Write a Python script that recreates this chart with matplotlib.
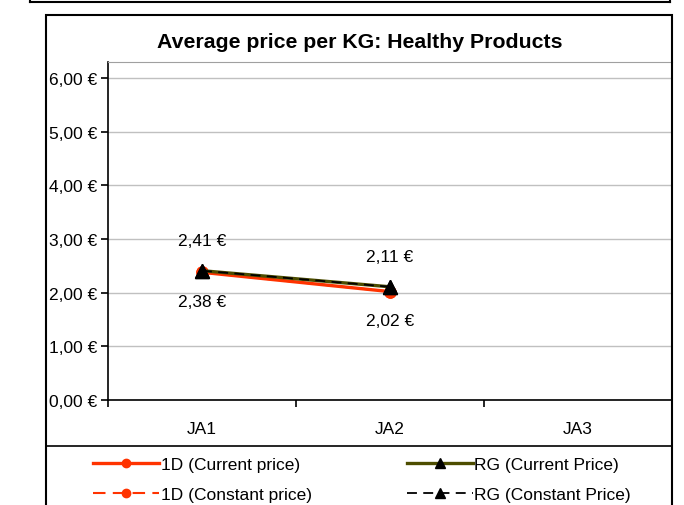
import numpy as np
import matplotlib.pyplot as plt
from matplotlib.lines import Line2D

# data
categories = ['JA1', 'JA2', 'JA3']
d1_current = [2.38, 2.02]
d1_constant = [2.38, 2.02]
rg_current = [2.41, 2.11]
rg_constant = [2.41, 2.11]
yticks = [0, 1, 2, 3, 4, 5, 6]

W, H = 684, 506
fig = plt.figure(figsize=(W / 100, H / 100), dpi=100)
plt.rcParams['font.family'] = ['Liberation Sans', 'DejaVu Sans']

def fx(px):
    return px / W

def fy(py):
    return 1 - py / H

# boxes around the chart
fig.add_artist(Line2D([fx(30), fx(670)], [fy(3), fy(3)], color='black', lw=1.5))
fig.add_artist(Line2D([fx(30), fx(30)], [fy(0), fy(3)], color='black', lw=1.5))
fig.add_artist(Line2D([fx(670), fx(670)], [fy(0), fy(3)], color='black', lw=1.5))
fig.add_artist(plt.Rectangle((fx(46), fy(520)), fx(672) - fx(46), fy(16) - fy(520),
                             fill=False, edgecolor='black', lw=1.5))
fig.add_artist(Line2D([fx(46), fx(672)], [fy(447), fy(447)], color='black', lw=1.2))

ax = fig.add_axes([fx(108), fy(401), fx(672) - fx(108), fy(63) - fy(401)])
x = np.arange(len(d1_current))

ax.plot(x, d1_current, color='#ff3300', lw=2.4, marker='o', ms=8, zorder=3)
ax.plot(x, d1_constant, color='#ff3300', lw=1.5, ls=(0, (6, 3.5)), marker='o', ms=8, zorder=3)
ax.plot(x, rg_current, color='#4d4d00', lw=2.4, marker='^', ms=10, mec='black', mfc='black', zorder=4)
ax.plot(x, rg_constant, color='black', lw=1.3, ls=(0, (5.5, 3.5)), marker='^', ms=10, mfc='black', zorder=4)

def euro(v):
    return '{:.2f} €'.format(v).replace('.', ',')

for i in range(len(x)):
    ax.annotate(euro(rg_current[i]), (x[i], rg_current[i]), xytext=(0, 22),
                textcoords='offset points', ha='center', va='center', fontsize=12.5)
    ax.annotate(euro(d1_current[i]), (x[i], d1_current[i]), xytext=(0, -21),
                textcoords='offset points', ha='center', va='center', fontsize=12.5)

ax.set_xlim(-0.5, 2.5)
ax.set_ylim(0, 6.3)
ax.set_yticks(yticks)
ax.set_yticklabels([euro(v) for v in yticks], fontsize=12.5)
ax.set_xticks(range(len(categories)))
ax.set_xticklabels(categories, fontsize=12.5)
ax.set_xticks([-0.5, 0.5, 1.5, 2.5], minor=True)
ax.tick_params(axis='x', which='major', length=0, pad=15)
ax.tick_params(axis='x', which='minor', length=5, width=1.2, direction='out')
ax.tick_params(axis='y', length=5, width=1.2, pad=3)
ax.grid(axis='y', color='#c0c0c0', lw=1)
ax.spines['top'].set_color('#a0a0a0')
ax.spines['right'].set_visible(False)
ax.spines['left'].set_linewidth(1.2)
ax.spines['bottom'].set_linewidth(1.2)

fig.text(fx(360), fy(43), 'Average price per KG: Healthy Products', ha='center', va='center',
         fontsize=15.3, fontweight='bold')

handles = [
    Line2D([], [], color='#ff3300', lw=2.4, marker='o', ms=6),
    Line2D([], [], color='#ff3300', lw=1.5, ls=(0, (6, 3.5)), marker='o', ms=6),
    Line2D([], [], color='#4d4d00', lw=2.4, marker='^', ms=7, mfc='black', mec='black'),
    Line2D([], [], color='black', lw=1.3, ls=(0, (5.5, 3.5)), marker='^', ms=7, mfc='black'),
]
labels = ['1D (Current price)', '1D (Constant price)', 'RG (Current Price)', 'RG (Constant Price)']
fig.legend(handles, labels, ncol=2, frameon=False, fontsize=12.5, loc='upper left',
           bbox_to_anchor=(fx(86), fy(451)), handlelength=3.8, handletextpad=0.1,
           columnspacing=5.47, labelspacing=0.85, borderaxespad=0)

fig.savefig('out.png', dpi=100)
